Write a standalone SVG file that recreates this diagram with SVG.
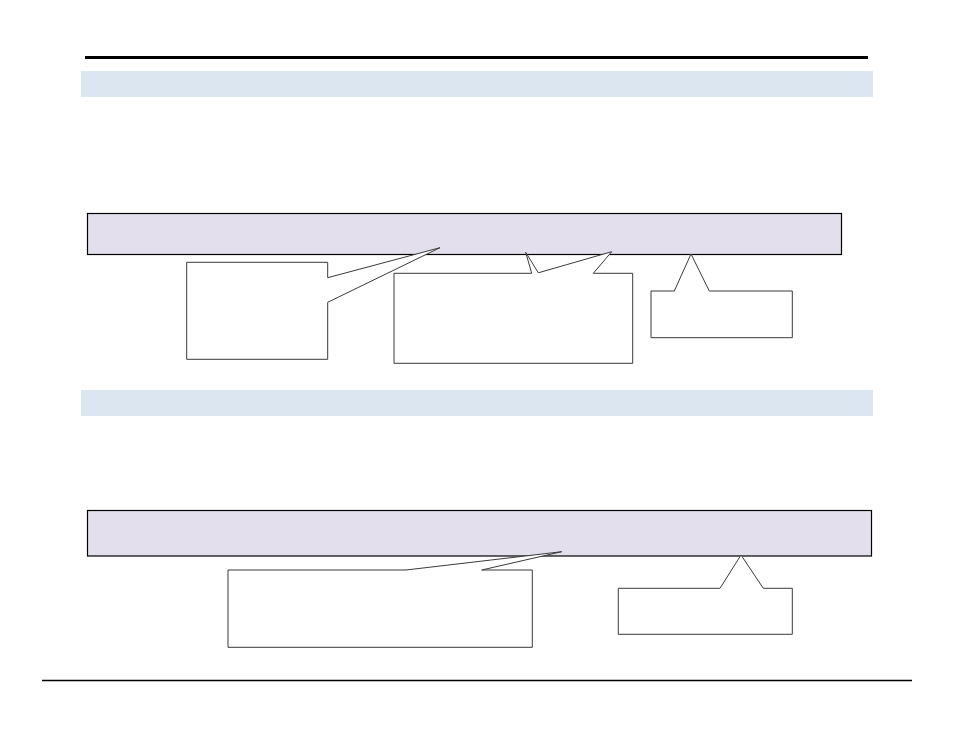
<svg xmlns="http://www.w3.org/2000/svg" width="954" height="737" viewBox="0 0 954 737">
<style>
.band{fill:#dce6f1;stroke:none}
.bar{fill:#e4dfec;stroke:#000;stroke-width:1.2}
.callout{fill:#fff;stroke:#3a3a3a;stroke-width:1;stroke-linejoin:miter}
.rule{stroke:#000;fill:none}
</style>
<rect width="954" height="737" fill="#fff"/>
<g id="rules">
<line class="rule" x1="85" y1="57.5" x2="868" y2="57.5" stroke-width="3"/>
<line class="rule" x1="42" y1="680.5" x2="912" y2="680.5" stroke-width="1.3"/>
</g>
<g id="band1"><rect class="band" x="81" y="71" width="792" height="26"/></g>
<g id="band2"><rect class="band" x="81" y="390" width="792" height="26"/></g>
<g id="bar1"><rect class="bar" x="87.5" y="213.5" width="754" height="41"/></g>
<g id="bar2"><rect class="bar" x="87.5" y="510.5" width="784" height="45.5"/></g>
<g id="callout1"><path class="callout" d="M186.7,262.3 H327.7 V277.7 L440,247.7 L327.7,302.3 V359.3 H186.7 Z"/></g>
<g id="callout2"><path class="callout" d="M394,273.3 H531.7 L525.7,252.3 L538.3,272.8 L611.7,251.7 L593.3,273.3 H632.7 V363.3 H394 Z"/></g>
<g id="callout3"><path class="callout" d="M651,291 H674.3 L691,254 L709.3,291 H792.3 V337.7 H651 Z"/></g>
<g id="callout4"><path class="callout" d="M228,570 H406 L561.7,551.7 L481.7,570 H532.3 V647.3 H228 Z"/></g>
<g id="callout5"><path class="callout" d="M618.3,588.3 H720 L741,555 L763.3,588.3 H792.3 V634.3 H618.3 Z"/></g>
<g id="connectors"></g>
</svg>
